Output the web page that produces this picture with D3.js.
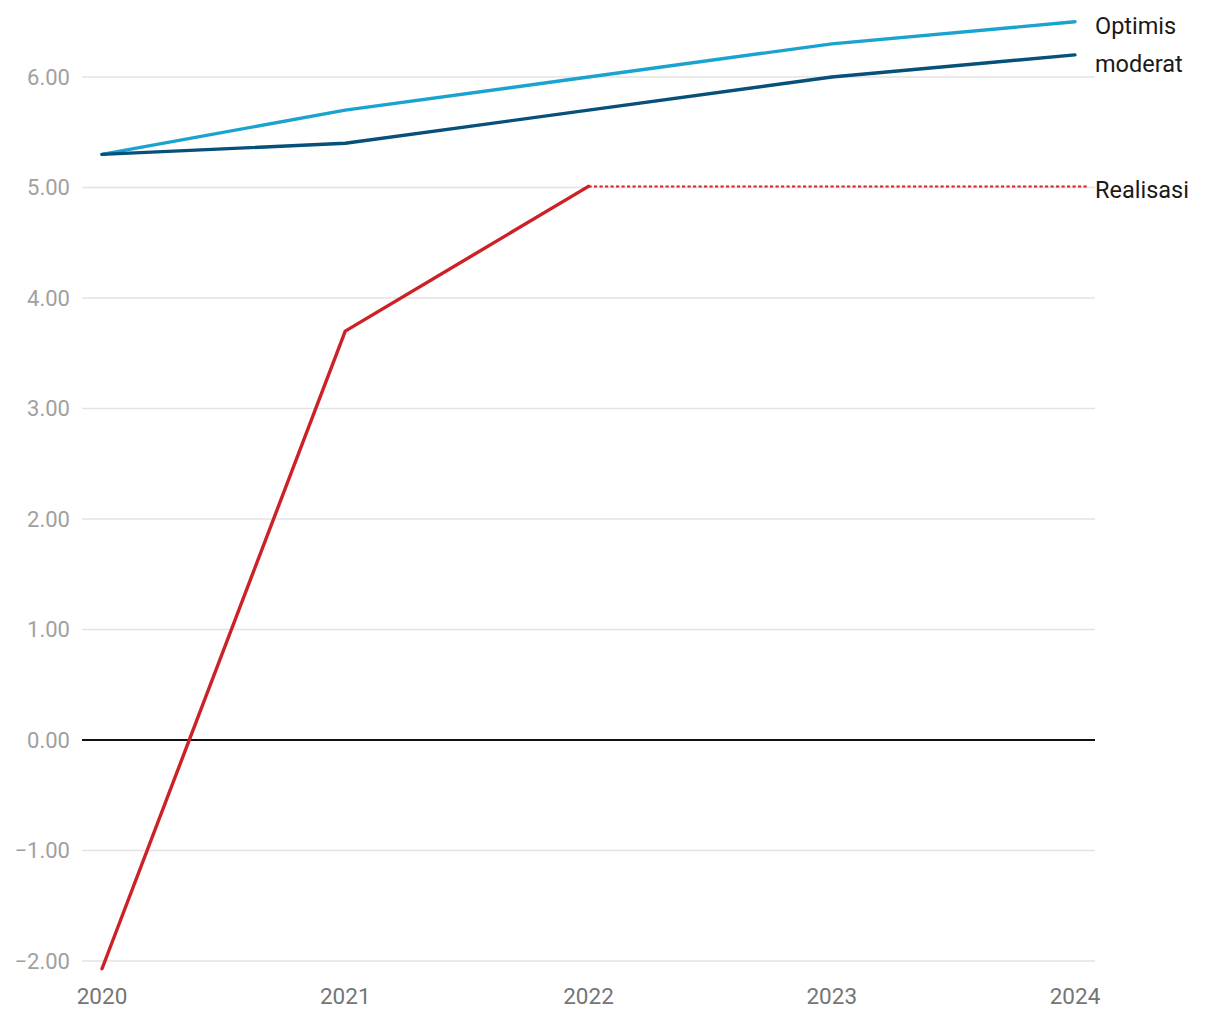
<!DOCTYPE html>
<html><head><meta charset="utf-8">
<script src="https://cdn.jsdelivr.net/npm/d3@7"></script>
<style>body{margin:0;background:#fff;font-family:Roboto,sans-serif}</style>
</head><body><svg id="c" width="1220" height="1020"></svg>
<script>
const years = [2020, 2021, 2022, 2023, 2024];
const optimis = [5.3, 5.7, 6.0, 6.3, 6.5];
const moderat = [5.3, 5.4, 5.7, 6.0, 6.2];
const realisasi = [-2.07, 3.70, 5.01];
const realisasiProj = [5.01, 5.01, 5.01];
const projYears = [2022, 2023, 2024];
const yTicks = [-2, -1, 0, 1, 2, 3, 4, 5, 6];

const svg = d3.select("#c");
const x = d3.scaleLinear().domain([2020, 2024]).range([102, 1075]);
const y = d3.scaleLinear().domain([-2, 6]).range([961, 77]);

// grid
svg.append("g").selectAll("line").data(yTicks.filter(d => d !== 0)).join("line")
  .attr("x1", 82).attr("x2", 1095).attr("y1", d => y(d)).attr("y2", d => y(d))
  .attr("stroke", "#e3e3e3").attr("stroke-width", 1.4);
svg.append("line").attr("x1", 82).attr("x2", 1095).attr("y1", y(0)).attr("y2", y(0))
  .attr("stroke", "#111").attr("stroke-width", 1.8);

// y labels
svg.append("g").selectAll("text").data(yTicks).join("text")
  .attr("x", 70).attr("y", d => y(d)).attr("dy", "0.35em").attr("text-anchor", "end")
  .attr("fill", "#a0a0a0").attr("font-size", 22).text(d => d3.format(".2f")(d).replace("-", "\u2212"));

// x labels
svg.append("g").selectAll("text").data(years).join("text")
  .attr("x", d => x(d)).attr("y", 1004).attr("text-anchor", "middle")
  .attr("fill", "#757575").attr("font-size", 22.5).text(d => d);

const line = d3.line().x(d => x(d[0])).y(d => y(d[1]));
function draw(xs, vs, color, w, dash) {
  const pts = xs.map((v, i) => [v, vs[i]]);
  const p = svg.append("path").datum(pts)
    .attr("fill", "none").attr("stroke", color).attr("stroke-width", w)
    .attr("stroke-linecap", dash ? "butt" : "round").attr("stroke-linejoin", "round");
  if (dash) {
    // projection runs on to the label column
    const d = line(pts) + "H" + (x(xs[xs.length - 1]) + 14);
    p.attr("d", d).attr("stroke-dasharray", dash);
  } else p.attr("d", line(pts));
}
draw(projYears, realisasiProj, "#d0262a", 2, "3.2,2.3");
draw(years, optimis, "#1ba3cf", 3.4);
draw(years, moderat, "#06507a", 3.4);
draw(years.slice(0, 3), realisasi, "#cc2127", 3.4);

const labels = [["Optimis", 26], ["moderat", 64], ["Realisasi", 190]];
svg.append("g").selectAll("text").data(labels).join("text")
  .attr("x", 1095).attr("y", d => d[1]).attr("dy", "0.35em")
  .attr("fill", "#1a1a1a").attr("font-size", 23.5).text(d => d[0]);
</script></body></html>
